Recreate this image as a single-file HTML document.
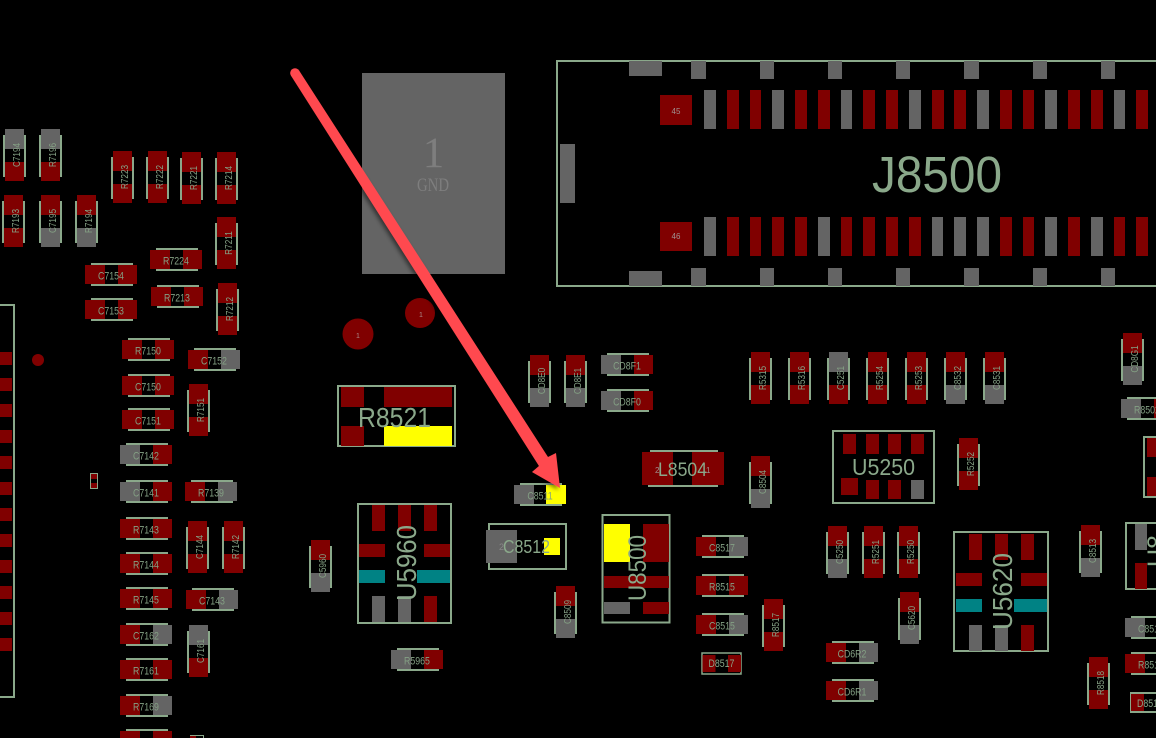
<!DOCTYPE html>
<html><head><meta charset="utf-8"><style>
html,body{margin:0;padding:0;background:#000}
svg{display:block}
.r{fill:#800000}.g{fill:#646464}.y{fill:#ff0}.t{fill:#008284}.s{fill:#8aa88a}
.o{fill:none;stroke:#8aa88a;stroke-width:2}
text{font-family:"Liberation Sans",sans-serif;fill:#8aa88a}
.tv{font-size:10px;text-anchor:middle;transform:translate(15px,26px) rotate(-90deg) scale(.82,1);fill:#84a084}
.th{font-size:11px;text-anchor:middle;transform:translate(26px,14.5px) scale(.8,1);fill:#84a084}
</style></head><body>
<svg width="1156" height="738" viewBox="0 0 1156 738" xmlns="http://www.w3.org/2000/svg">
<defs>
<filter id="sh" x="-10%" y="-10%" width="120%" height="120%"><feDropShadow dx="-2" dy="2" stdDeviation="2" flood-color="#000" flood-opacity=".5"/></filter>
<g id="vs"><rect class="s" x="-2" y="6" width="2" height="42"/><rect class="s" x="19" y="6" width="2" height="42"/></g>
<g id="hs"><rect class="s" x="6" y="-2" width="42" height="2"/><rect class="s" x="6" y="19" width="42" height="2"/></g>
<g id="vRR"><use href="#vs"/><rect class="r" width="19" height="20"/><rect class="r" y="33" width="19" height="19"/></g>
<g id="vRG"><use href="#vs"/><rect class="r" width="19" height="20"/><rect class="g" y="33" width="19" height="19"/></g>
<g id="vGR"><use href="#vs"/><rect class="g" width="19" height="20"/><rect class="r" y="33" width="19" height="19"/></g>
<g id="hRR"><use href="#hs"/><rect class="r" width="20" height="19"/><rect class="r" x="33" width="19" height="19"/></g>
<g id="hRG"><use href="#hs"/><rect class="r" width="20" height="19"/><rect class="g" x="33" width="19" height="19"/></g>
<g id="hGR"><use href="#hs"/><rect class="g" width="20" height="19"/><rect class="r" x="33" width="19" height="19"/></g>
<g id="hGY"><use href="#hs"/><rect class="g" width="20" height="19"/><rect class="y" x="32" width="20" height="19"/></g>
</defs>
<rect width="1156" height="738" fill="#000"/>

<!-- left connector -->
<path d="M0 305H14V697H0" class="o"/>
<rect class="r" x="0" y="352" width="12" height="13"/><rect class="r" x="0" y="378" width="12" height="13"/><rect class="r" x="0" y="404" width="12" height="13"/><rect class="r" x="0" y="430" width="12" height="13"/><rect class="r" x="0" y="456" width="12" height="13"/><rect class="r" x="0" y="482" width="12" height="13"/><rect class="r" x="0" y="508" width="12" height="13"/><rect class="r" x="0" y="534" width="12" height="13"/><rect class="r" x="0" y="560" width="12" height="13"/><rect class="r" x="0" y="586" width="12" height="13"/><rect class="r" x="0" y="612" width="12" height="13"/><rect class="r" x="0" y="638" width="12" height="13"/>
<circle class="r" cx="38" cy="360" r="6"/>
<rect x="90.5" y="473.5" width="7" height="15" fill="none" stroke="#8aa88a"/><rect class="r" x="91" y="474" width="6" height="5"/><rect class="r" x="91" y="483" width="6" height="5"/>

<!-- vertical parts left -->
<g transform="translate(5,129)"><use href="#vGR"/><text class="tv">C7194</text></g>
<g transform="translate(41,129)"><use href="#vGR"/><text class="tv">R7196</text></g>
<g transform="translate(113,151)"><use href="#vRR"/><text class="tv">R7223</text></g>
<g transform="translate(148,151)"><use href="#vRR"/><text class="tv">R7222</text></g>
<g transform="translate(182,152)"><use href="#vRR"/><text class="tv">R7221</text></g>
<g transform="translate(217,152)"><use href="#vRR"/><text class="tv">R7214</text></g>
<g transform="translate(4,195)"><use href="#vRR"/><text class="tv">R7193</text></g>
<g transform="translate(41,195)"><use href="#vRG"/><text class="tv">C7195</text></g>
<g transform="translate(77,195)"><use href="#vRG"/><text class="tv">R7194</text></g>
<g transform="translate(217,217)"><use href="#vRR"/><text class="tv">R7211</text></g>
<g transform="translate(218,283)"><use href="#vRR"/><text class="tv">R7212</text></g>
<g transform="translate(189,384)"><use href="#vRR"/><text class="tv">R7151</text></g>
<g transform="translate(188,521)"><use href="#vRR"/><text class="tv">C7144</text></g>
<g transform="translate(224,521)"><use href="#vRR"/><text class="tv">R7142</text></g>
<g transform="translate(189,625)"><use href="#vGR"/><text class="tv">C7161</text></g>
<rect x="190.5" y="735.5" width="13" height="8" fill="none" stroke="#8aa88a"/><rect class="r" x="190" y="736" width="6" height="4"/>

<!-- horizontal parts left -->
<g transform="translate(150,250)"><use href="#hRR"/><text class="th">R7224</text></g>
<g transform="translate(85,265)"><use href="#hRR"/><text class="th">C7154</text></g>
<g transform="translate(151,287)"><use href="#hRR"/><text class="th">R7213</text></g>
<g transform="translate(85,300)"><use href="#hRR"/><text class="th">C7153</text></g>
<g transform="translate(122,340)"><use href="#hRR"/><text class="th">R7150</text></g>
<g transform="translate(188,350)"><use href="#hRG"/><text class="th">C7152</text></g>
<g transform="translate(122,376)"><use href="#hRR"/><text class="th">C7150</text></g>
<g transform="translate(122,410)"><use href="#hRR"/><text class="th">C7151</text></g>
<g transform="translate(120,445)"><use href="#hGR"/><text class="th">C7142</text></g>
<g transform="translate(120,482)"><use href="#hGR"/><text class="th">C7141</text></g>
<g transform="translate(185,482)"><use href="#hRG"/><text class="th">R7139</text></g>
<g transform="translate(120,519)"><use href="#hRR"/><text class="th">R7143</text></g>
<g transform="translate(120,554)"><use href="#hRR"/><text class="th">R7144</text></g>
<g transform="translate(120,589)"><use href="#hRR"/><text class="th">R7145</text></g>
<g transform="translate(186,590)"><use href="#hRG"/><text class="th">C7143</text></g>
<g transform="translate(120,625)"><use href="#hRG"/><text class="th">C7162</text></g>
<g transform="translate(120,660)"><use href="#hRR"/><text class="th">R7161</text></g>
<g transform="translate(120,696)"><use href="#hRG"/><text class="th">R7169</text></g>
<g transform="translate(120,731)"><use href="#hRR"/></g>

<!-- GND pad -->
<rect class="g" x="362" y="73" width="143" height="201"/>
<text x="433.5" y="167" text-anchor="middle" style="font-family:'Liberation Serif',serif;font-size:43px;fill:#7e7e7e">1</text>
<text x="417" y="191" textLength="32" lengthAdjust="spacingAndGlyphs" style="font-family:'Liberation Serif',serif;font-size:19px;fill:#7e7e7e">GND</text>
<circle class="r" cx="358" cy="334" r="15.500"/><circle class="r" cx="420" cy="313" r="15"/>
<text x="358" y="338" text-anchor="middle" style="font-size:7px;fill:#a88">1</text>
<text x="421" y="317" text-anchor="middle" style="font-size:7px;fill:#a88">1</text>

<!-- J8500 -->
<path d="M1156 61H557V286H1156" class="o"/>
<rect class="g" x="629" y="61" width="33" height="15"/><rect class="g" x="629" y="271" width="33" height="15"/>
<rect class="g" x="560" y="144" width="15" height="59"/>
<g class="g">
<rect x="691" y="61" width="15" height="18"/><rect x="760" y="61" width="14" height="18"/><rect x="828" y="61" width="14" height="18"/><rect x="896" y="61" width="14" height="18"/><rect x="964" y="61" width="15" height="18"/><rect x="1033" y="61" width="14" height="18"/><rect x="1101" y="61" width="14" height="18"/>
<rect x="691" y="268" width="15" height="18"/><rect x="760" y="268" width="14" height="18"/><rect x="828" y="268" width="14" height="18"/><rect x="896" y="268" width="14" height="18"/><rect x="964" y="268" width="15" height="18"/><rect x="1033" y="268" width="14" height="18"/><rect x="1101" y="268" width="14" height="18"/>
</g>
<rect class="r" x="660" y="95" width="32" height="30"/><rect class="r" x="660" y="222" width="32" height="29"/>
<text x="676" y="114" text-anchor="middle" style="font-size:8px;fill:#a09090">45</text>
<text x="676" y="239" text-anchor="middle" style="font-size:8px;fill:#a09090">46</text>
<rect class="g" x="704" y="90" width="12" height="39"/><rect class="r" x="727" y="90" width="12" height="39"/><rect class="r" x="750" y="90" width="11" height="39"/><rect class="g" x="772" y="90" width="12" height="39"/><rect class="r" x="795" y="90" width="12" height="39"/><rect class="r" x="818" y="90" width="12" height="39"/><rect class="g" x="841" y="90" width="11" height="39"/><rect class="r" x="863" y="90" width="12" height="39"/><rect class="r" x="886" y="90" width="12" height="39"/><rect class="g" x="909" y="90" width="12" height="39"/><rect class="r" x="932" y="90" width="12" height="39"/><rect class="r" x="954" y="90" width="12" height="39"/><rect class="g" x="977" y="90" width="12" height="39"/><rect class="r" x="1000" y="90" width="12" height="39"/><rect class="r" x="1023" y="90" width="11" height="39"/><rect class="g" x="1045" y="90" width="12" height="39"/><rect class="r" x="1068" y="90" width="12" height="39"/><rect class="r" x="1091" y="90" width="12" height="39"/><rect class="g" x="1114" y="90" width="11" height="39"/><rect class="r" x="1136" y="90" width="12" height="39"/>
<rect class="g" x="704" y="217" width="12" height="39"/><rect class="r" x="727" y="217" width="12" height="39"/><rect class="r" x="750" y="217" width="11" height="39"/><rect class="r" x="772" y="217" width="12" height="39"/><rect class="r" x="795" y="217" width="12" height="39"/><rect class="g" x="818" y="217" width="12" height="39"/><rect class="r" x="841" y="217" width="11" height="39"/><rect class="r" x="863" y="217" width="12" height="39"/><rect class="r" x="886" y="217" width="12" height="39"/><rect class="r" x="909" y="217" width="12" height="39"/><rect class="g" x="932" y="217" width="11" height="39"/><rect class="g" x="954" y="217" width="12" height="39"/><rect class="g" x="977" y="217" width="12" height="39"/><rect class="r" x="1000" y="217" width="12" height="39"/><rect class="r" x="1023" y="217" width="11" height="39"/><rect class="g" x="1045" y="217" width="12" height="39"/><rect class="r" x="1068" y="217" width="12" height="39"/><rect class="g" x="1091" y="217" width="12" height="39"/><rect class="r" x="1114" y="217" width="11" height="39"/><rect class="r" x="1136" y="217" width="12" height="39"/>
<text x="872" y="192" textLength="130" lengthAdjust="spacingAndGlyphs" style="font-size:51px">J8500</text>

<!-- R8521 -->
<rect class="o" x="338" y="386" width="117" height="60"/>
<rect class="r" x="341" y="387" width="23" height="20"/><rect class="r" x="384" y="387" width="68" height="20"/><rect class="r" x="341" y="426" width="23" height="20"/><rect class="y" x="384" y="426" width="68" height="20"/>
<text x="358" y="427" textLength="73" lengthAdjust="spacingAndGlyphs" style="font-size:28px">R8521</text>

<!-- U5960 -->
<rect class="o" x="358" y="504" width="93" height="119"/>
<rect class="r" x="372" y="505" width="13" height="26"/><rect class="r" x="398" y="505" width="13" height="26"/><rect class="r" x="424" y="505" width="13" height="26"/>
<rect class="r" x="359" y="544" width="26" height="13"/><rect class="r" x="424" y="544" width="26" height="13"/>
<rect class="t" x="359" y="570" width="26" height="13"/><rect class="t" x="417" y="570" width="33" height="13"/>
<rect class="g" x="372" y="596" width="13" height="26"/><rect class="g" x="398" y="596" width="13" height="26"/><rect class="r" x="424" y="596" width="13" height="26"/>
<text transform="translate(416,601) rotate(-90)" textLength="76" lengthAdjust="spacingAndGlyphs" style="font-size:28px">U5960</text>

<!-- C8511 C8512 -->
<g transform="translate(514,485)"><use href="#hGY"/><text class="th">C8511</text></g>
<rect class="o" x="489" y="524" width="77" height="45"/>
<rect class="g" x="486" y="530" width="31" height="33"/><rect class="y" x="544" y="538" width="16" height="17"/>
<text x="499" y="550" style="font-size:9px;fill:#888">2</text>
<text x="503" y="553" textLength="47" lengthAdjust="spacingAndGlyphs" style="font-size:18px">C8512</text>

<g transform="translate(311,540)"><use href="#vRG"/><text class="tv">C5960</text></g>
<g transform="translate(556,586)"><use href="#vRG"/><text class="tv">C8509</text></g>
<g transform="translate(391,650)"><use href="#hGR"/><text class="th">R5965</text></g>
<g transform="translate(530,355)"><use href="#vRG"/><text class="tv">CD8E0</text></g>
<g transform="translate(566,355)"><use href="#vRG"/><text class="tv">CD8E1</text></g>
<g transform="translate(601,355)"><use href="#hGR"/><text class="th">CD8F1</text></g>
<g transform="translate(601,391)"><use href="#hGR"/><text class="th">CD8F0</text></g>

<!-- L8504 -->
<rect class="s" x="650" y="450" width="68" height="2"/><rect class="s" x="648" y="485" width="70" height="2"/>
<rect class="r" x="642" y="452" width="31" height="33"/><rect class="r" x="692" y="452" width="32" height="33"/>
<text x="655" y="473" style="font-size:8px;fill:#a09090">2</text><text x="706" y="473" style="font-size:8px;fill:#a09090">1</text>
<text x="658" y="476" textLength="49" lengthAdjust="spacingAndGlyphs" style="font-size:19px">L8504</text>

<!-- U8500 -->
<rect class="o" x="602.500" y="515" width="67" height="107.500"/>
<rect class="y" x="604" y="524" width="26" height="38"/><rect class="r" x="643" y="524" width="26" height="38"/>
<rect class="r" x="604" y="576" width="65" height="12"/>
<rect class="g" x="604" y="602" width="26" height="12"/><rect class="r" x="643" y="602" width="26" height="12"/>
<text transform="translate(646,601) rotate(-90)" textLength="66" lengthAdjust="spacingAndGlyphs" style="font-size:25px">U8500</text>

<g transform="translate(696,537)"><use href="#hRG"/><text class="th">C8517</text></g>
<g transform="translate(696,576)"><use href="#hRR"/><text class="th">R8515</text></g>
<g transform="translate(696,615)"><use href="#hRG"/><text class="th">C8515</text></g>
<g transform="translate(764,599)"><use href="#vRR"/><text class="tv">R8517</text></g>
<rect x="702" y="653" width="39" height="21" fill="none" stroke="#8aa88a" stroke-width="1.500"/><rect class="r" x="702.500" y="655" width="13" height="17"/><rect class="r" x="728" y="655" width="13" height="17"/>
<text transform="translate(721.500,667) scale(.8,1)" text-anchor="middle" style="font-size:11px">D8517</text>

<g transform="translate(751,352)"><use href="#vRR"/><text class="tv">R5315</text></g>
<g transform="translate(790,352)"><use href="#vRR"/><text class="tv">R5316</text></g>
<g transform="translate(829,352)"><use href="#vGR"/><text class="tv">C5251</text></g>
<g transform="translate(868,352)"><use href="#vRR"/><text class="tv">R5254</text></g>
<g transform="translate(907,352)"><use href="#vRR"/><text class="tv">R5253</text></g>
<g transform="translate(946,352)"><use href="#vRG"/><text class="tv">C8532</text></g>
<g transform="translate(985,352)"><use href="#vRG"/><text class="tv">C8531</text></g>
<g transform="translate(751,456)"><use href="#vRG"/><text class="tv">C8504</text></g>
<g transform="translate(1123,333)"><use href="#vRG"/><text class="tv">CD8G1</text></g>
<g transform="translate(1121,399)"><use href="#hGR"/><text class="th">R8502</text></g>
<g transform="translate(959,438)"><use href="#vRR"/><text class="tv">R5252</text></g>

<!-- U5250 -->
<rect class="o" x="833" y="431" width="101" height="72"/>
<rect class="r" x="843" y="434" width="13" height="20"/><rect class="r" x="866" y="434" width="13" height="20"/><rect class="r" x="888" y="434" width="13" height="20"/><rect class="r" x="911" y="434" width="13" height="20"/>
<rect class="r" x="841" y="478" width="17" height="17"/><rect class="r" x="866" y="480" width="13" height="19"/><rect class="r" x="888" y="480" width="13" height="19"/><rect class="g" x="911" y="480" width="13" height="19"/>
<text x="852" y="475" textLength="63" lengthAdjust="spacingAndGlyphs" style="font-size:23px">U5250</text>

<g transform="translate(828,526)"><use href="#vRG"/><text class="tv">C5250</text></g>
<g transform="translate(864,526)"><use href="#vRR"/><text class="tv">R5251</text></g>
<g transform="translate(899,526)"><use href="#vRR"/><text class="tv">R5250</text></g>
<g transform="translate(900,592)"><use href="#vRG"/><text class="tv">C5620</text></g>
<g transform="translate(826,643)"><use href="#hRG"/><text class="th">CD6R2</text></g>
<g transform="translate(826,681)"><use href="#hRG"/><text class="th">CD6R1</text></g>

<!-- U5620 -->
<rect class="o" x="954" y="532" width="94" height="119"/>
<rect class="r" x="969" y="534" width="13" height="26"/><rect class="r" x="995" y="534" width="13" height="26"/><rect class="r" x="1021" y="534" width="13" height="26"/>
<rect class="r" x="956" y="573" width="26" height="13"/><rect class="r" x="1021" y="573" width="26" height="13"/>
<rect class="t" x="956" y="599" width="26" height="13"/><rect class="t" x="1014" y="599" width="33" height="13"/>
<rect class="g" x="969" y="625" width="13" height="26"/><rect class="g" x="995" y="625" width="13" height="26"/><rect class="r" x="1021" y="625" width="13" height="26"/>
<text transform="translate(1012,630) rotate(-90)" textLength="77" lengthAdjust="spacingAndGlyphs" style="font-size:28px">U5620</text>

<g transform="translate(1081,525)"><use href="#vRG"/><text class="tv">C8513</text></g>
<g transform="translate(1089,657)"><use href="#vRR"/><text class="tv">R8518</text></g>

<!-- right edge -->
<path d="M1156 437H1144V497H1156" class="o"/><rect class="r" x="1147" y="438" width="9" height="19"/><rect class="r" x="1147" y="477" width="9" height="19"/>
<path d="M1156 523H1126V589H1156" class="o"/><rect class="g" x="1135" y="524" width="12" height="26"/><rect class="r" x="1135" y="563" width="12" height="26"/>
<text transform="translate(1165,567) rotate(-90)" style="font-size:25px">U8</text>
<g transform="translate(1125,618)"><use href="#hGR"/><text class="th">C8516</text></g>
<g transform="translate(1125,654)"><use href="#hRR"/><text class="th">R8516</text></g>
<path d="M1156 693H1131V712H1156" class="o" stroke-width="1.500"/><rect class="r" x="1131" y="694" width="13" height="17"/>
<text transform="translate(1150,707) scale(.8,1)" text-anchor="middle" style="font-size:11px">D8516</text>

<!-- arrow -->
<g filter="url(#sh)">
<circle cx="295" cy="73" r="4.800" fill="#ff4a4f"/>
<polygon fill="#ff4a4f" points="299,70.400 548,457 556,453 560,488 532,472 539,466 291,75.600"/>
</g>
</svg>
</body></html>
